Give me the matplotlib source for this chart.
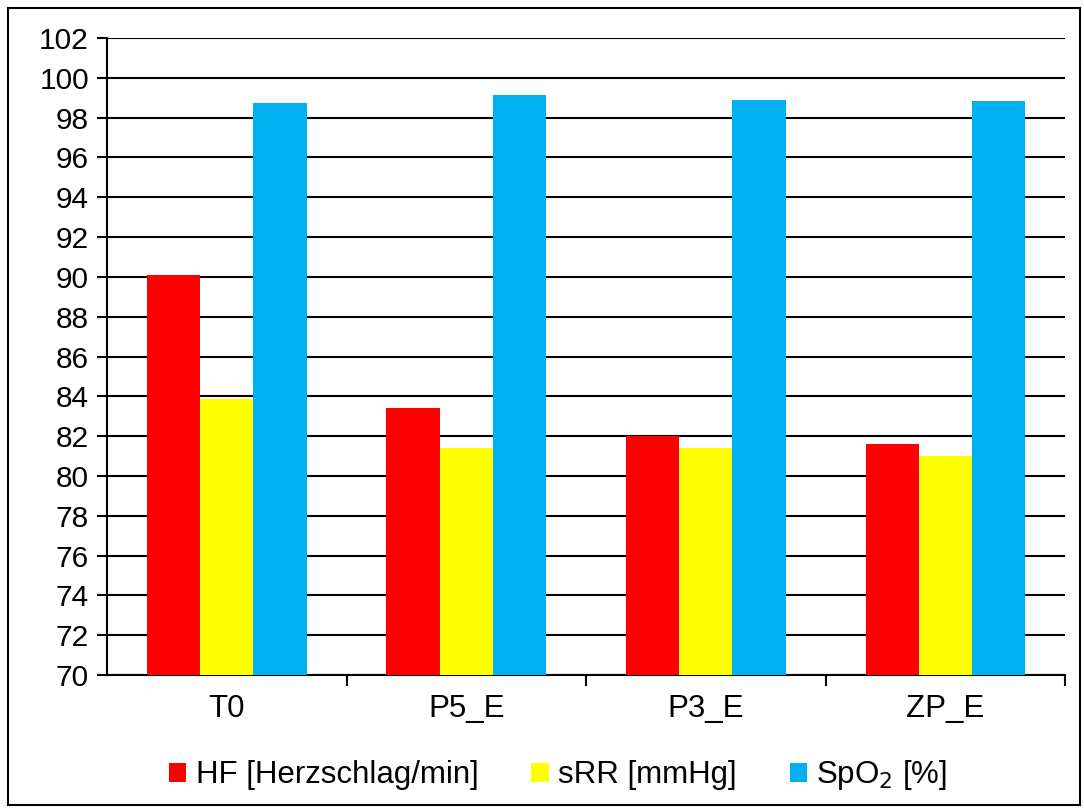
import matplotlib
matplotlib.use("Agg")
import matplotlib.pyplot as plt
import numpy as np
from matplotlib.patches import Rectangle

categories = ["T0", "P5_E", "P3_E", "ZP_E"]
hf = [90.1, 83.4, 82.0, 81.6]
srr = [83.85, 81.4, 81.4, 81.0]
spo2 = [98.75, 99.15, 98.9, 98.85]
series_labels = ["HF [Herzschlag/min]", "sRR [mmHg]", "SpO$_2$ [%]"]
colors = ["#FF0000", "#FFFF00", "#00B0F0"]
yticks = list(range(70, 103, 2))

plt.rcParams['font.family'] = ['Liberation Sans', 'DejaVu Sans']

fig = plt.figure(figsize=(10.84, 8.10), dpi=100)
ax = fig.add_axes([0.0987, 0.1667, 0.8838, 0.7863])

x = np.arange(len(categories))
w = 0.222
base = 70
for i, (vals, lab, c) in enumerate(zip([hf, srr, spo2], series_labels, colors)):
    ax.bar(x + (i - 1) * w, np.array(vals) - base, w, bottom=base, color=c, label=lab, zorder=3)

ax.set_ylim(70, 102)
ax.set_xlim(-0.5, len(categories) - 0.5)
ax.set_yticks(yticks)
ax.set_yticklabels([str(t) for t in yticks], fontsize=21.5)
ax.yaxis.grid(True, color='black', linewidth=1.5, zorder=0)
ax.set_axisbelow(True)

ax.set_xticks(x)
ax.set_xticklabels(categories, fontsize=22.5)
ax.tick_params(axis='x', which='major', length=0, pad=14)
ax.set_xticks(np.arange(len(categories)) + 0.5, minor=True)
ax.tick_params(axis='x', which='minor', length=8, width=1.5, direction='out', color='black')
ax.tick_params(axis='y', length=7, width=1.5, direction='out', pad=6)

for s in ['top', 'right']:
    ax.spines[s].set_visible(False)
for s in ['left', 'bottom']:
    ax.spines[s].set_linewidth(1.5)
    ax.spines[s].set_color('black')

handles, labels = ax.get_legend_handles_labels()
leg = fig.legend(handles, labels, loc='center', bbox_to_anchor=(0.515, 0.043),
                 ncol=3, frameon=False, fontsize=22.5, handlelength=0.55, handleheight=0.55,
                 handletextpad=0.3, columnspacing=1.7)

fig.patches.append(Rectangle((8 / 1084, 5 / 810), 1072 / 1084, 797 / 810,
                             transform=fig.transFigure, fill=False,
                             edgecolor='black', linewidth=1.5))

fig.savefig("out.png", dpi=100)
